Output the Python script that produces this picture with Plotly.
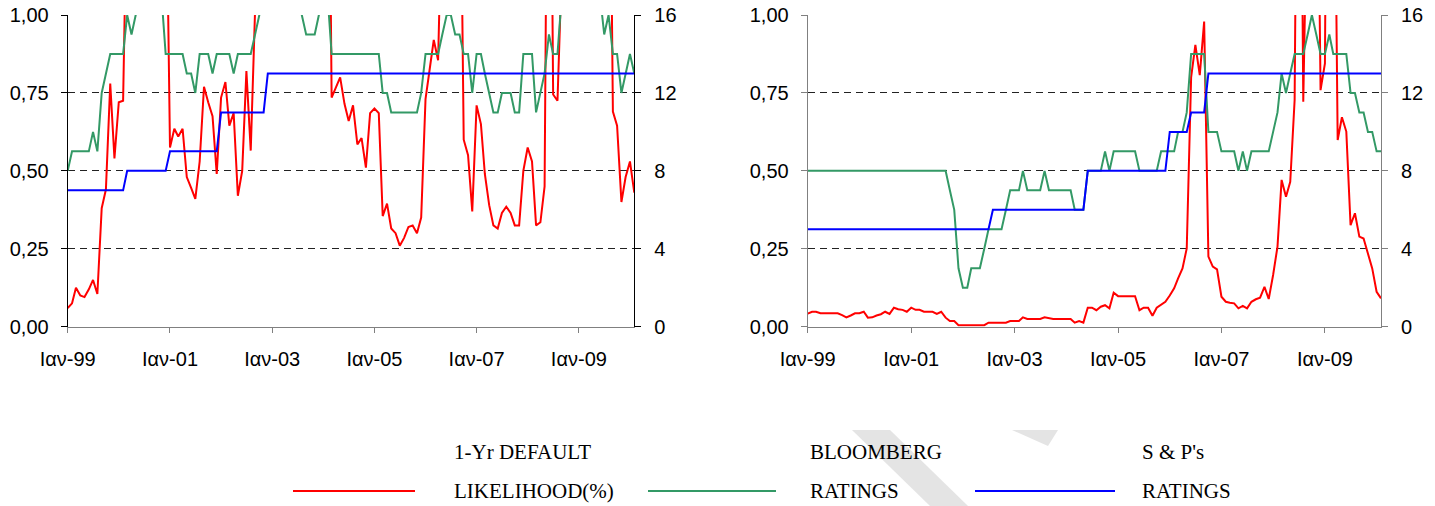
import pandas as pd
import plotly.graph_objects as go

# Monthly observations, January 1999 to February 2010
months = pd.date_range("1999-01-01", "2010-02-01", freq="MS")

tick_dates = ["1999-01-01", "2001-01-01", "2003-01-01", "2005-01-01", "2007-01-01", "2009-01-01"]
tick_labels = ["Ιαν-99", "Ιαν-01", "Ιαν-03", "Ιαν-05", "Ιαν-07", "Ιαν-09"]

# ---- left panel ----
left_default = [
    0.06, 0.075, 0.125, 0.10, 0.095, 0.12, 0.15, 0.105, 0.38, 0.44,
    0.78, 0.54, 0.72, 0.725, 1.45, 1.60, 1.70, 1.80, 1.70, 1.60,
    1.75, 1.85, 1.80, 1.60, 0.575, 0.635, 0.61, 0.635, 0.48, 0.445,
    0.41, 0.53, 0.77, 0.72, 0.675, 0.49, 0.735, 0.785, 0.645, 0.685,
    0.42, 0.50, 0.82, 0.565, 1.60, 1.80, 1.90, 2.00, 1.90, 1.80,
    1.70, 1.80, 1.90, 2.00, 1.90, 1.80, 1.70, 1.80, 1.90, 2.00,
    2.10, 2.20, 0.735, 0.77, 0.80, 0.715, 0.66, 0.71, 0.585, 0.605,
    0.51, 0.685, 0.70, 0.685, 0.355, 0.395, 0.315, 0.30, 0.26, 0.285,
    0.32, 0.325, 0.30, 0.35, 0.73, 0.83, 0.92, 0.855, 1.80, 2.00,
    1.90, 1.80, 1.80, 0.60, 0.55, 0.37, 0.71, 0.65, 0.49, 0.39,
    0.325, 0.315, 0.365, 0.385, 0.365, 0.325, 0.325, 0.50, 0.575, 0.53,
    0.325, 0.335, 0.45, 2.40, 0.745, 0.725, 1.80, 1.90, 2.00, 1.90,
    1.80, 1.90, 2.00, 1.90, 1.80, 1.90, 2.00, 2.10, 0.69, 0.645,
    0.40, 0.48, 0.53, 0.43,
]
left_bloomberg = [
    8, 9, 9, 9, 9, 9, 10, 9, 12, 13,
    14, 14, 14, 14, 16, 15, 16, 17, 17, 17,
    17, 17, 17, 14, 14, 14, 14, 14, 13, 13,
    12, 14, 14, 14, 13, 14, 14, 14, 14, 13,
    14, 14, 14, 14, 15, 16, 17, 17, 17, 17,
    17, 17, 17, 17, 17, 16, 15, 15, 15, 16,
    17, 17, 14, 14, 14, 14, 14, 14, 14, 14,
    14, 14, 14, 14, 12, 12, 11, 11, 11, 11,
    11, 11, 11, 12, 14, 14, 14, 14, 15, 16,
    16, 15, 15, 14, 14, 12, 14, 14, 13, 12,
    11, 11, 12, 12, 12, 11, 11, 14, 14, 14,
    11, 12, 13, 15, 14, 14, 17, 17, 17, 17,
    17, 17, 17, 17, 17, 17, 15, 16, 14, 14,
    12, 13, 14, 13,
]
left_sp = [
    7, 7, 7, 7, 7, 7, 7, 7, 7, 7,
    7, 7, 7, 7, 8, 8, 8, 8, 8, 8,
    8, 8, 8, 8, 9, 9, 9, 9, 9, 9,
    9, 9, 9, 9, 9, 9, 11, 11, 11, 11,
    11, 11, 11, 11, 11, 11, 11, 13, 13, 13,
    13, 13, 13, 13, 13, 13, 13, 13, 13, 13,
    13, 13, 13, 13, 13, 13, 13, 13, 13, 13,
    13, 13, 13, 13, 13, 13, 13, 13, 13, 13,
    13, 13, 13, 13, 13, 13, 13, 13, 13, 13,
    13, 13, 13, 13, 13, 13, 13, 13, 13, 13,
    13, 13, 13, 13, 13, 13, 13, 13, 13, 13,
    13, 13, 13, 13, 13, 13, 13, 13, 13, 13,
    13, 13, 13, 13, 13, 13, 13, 13, 13, 13,
    13, 13, 13, 13,
]

# ---- right panel ----
right_default = [
    0.042, 0.048, 0.048, 0.043, 0.043, 0.043, 0.043, 0.043, 0.037, 0.030,
    0.036, 0.043, 0.043, 0.048, 0.029, 0.030, 0.036, 0.040, 0.048, 0.041,
    0.061, 0.056, 0.054, 0.048, 0.061, 0.054, 0.054, 0.048, 0.048, 0.048,
    0.041, 0.048, 0.029, 0.018, 0.018, 0.005, 0.005, 0.005, 0.005, 0.005,
    0.005, 0.005, 0.013, 0.013, 0.013, 0.013, 0.013, 0.018, 0.018, 0.018,
    0.030, 0.025, 0.025, 0.025, 0.025, 0.030, 0.027, 0.025, 0.025, 0.025,
    0.025, 0.025, 0.013, 0.018, 0.013, 0.061, 0.061, 0.053, 0.064, 0.069,
    0.059, 0.109, 0.098, 0.098, 0.098, 0.098, 0.098, 0.053, 0.061, 0.061,
    0.035, 0.061, 0.070, 0.080, 0.100, 0.123, 0.155, 0.187, 0.251, 0.800,
    0.904, 0.807, 0.979, 0.225, 0.193, 0.184, 0.096, 0.080, 0.077, 0.075,
    0.059, 0.067, 0.059, 0.080, 0.088, 0.093, 0.128, 0.089, 0.166, 0.257,
    0.471, 0.417, 0.465, 0.727, 2.500, 0.722, 1.500, 1.600, 2.000, 0.759,
    0.845, 3.000, 2.000, 0.599, 0.672, 0.626, 0.326, 0.364, 0.289, 0.283,
    0.235, 0.187, 0.112, 0.091,
]
right_bloomberg = [
    8, 8, 8, 8, 8, 8, 8, 8, 8, 8,
    8, 8, 8, 8, 8, 8, 8, 8, 8, 8,
    8, 8, 8, 8, 8, 8, 8, 8, 8, 8,
    8, 8, 8, 7, 6, 3, 2, 2, 3, 3,
    3, 4, 5, 5, 5, 5, 6, 7, 7, 7,
    8, 7, 7, 7, 7, 8, 7, 7, 7, 7,
    7, 7, 6, 6, 6, 8, 8, 8, 8, 9,
    8, 9, 9, 9, 9, 9, 9, 8, 8, 8,
    8, 8, 9, 9, 9, 9, 10, 10, 11, 14,
    14, 14, 14, 10, 10, 10, 9, 9, 9, 9,
    8, 9, 8, 9, 9, 9, 9, 9, 10, 11,
    13, 12, 13, 14, 14, 14, 15, 16, 15, 14,
    14, 15, 14, 14, 14, 14, 12, 12, 11, 11,
    10, 10, 9, 9,
]
right_sp = [
    5, 5, 5, 5, 5, 5, 5, 5, 5, 5,
    5, 5, 5, 5, 5, 5, 5, 5, 5, 5,
    5, 5, 5, 5, 5, 5, 5, 5, 5, 5,
    5, 5, 5, 5, 5, 5, 5, 5, 5, 5,
    5, 5, 5, 6, 6, 6, 6, 6, 6, 6,
    6, 6, 6, 6, 6, 6, 6, 6, 6, 6,
    6, 6, 6, 6, 6, 8, 8, 8, 8, 8,
    8, 8, 8, 8, 8, 8, 8, 8, 8, 8,
    8, 8, 8, 8, 10, 10, 10, 10, 10, 11,
    11, 11, 11, 13, 13, 13, 13, 13, 13, 13,
    13, 13, 13, 13, 13, 13, 13, 13, 13, 13,
    13, 13, 13, 13, 13, 13, 13, 13, 13, 13,
    13, 13, 13, 13, 13, 13, 13, 13, 13, 13,
    13, 13, 13, 13,
]

RED, GREEN, BLUE = "#FF0000", "#339966", "#0000FF"
W, H = 1435, 506


def px_x(v):
    return v / W


def px_y(v):
    return 1 - v / H


tick_font = dict(family="Liberation Sans, Arial, sans-serif", size=20, color="black")

fig = go.Figure()
panels = [
    ("x", "y", "y2", left_default, left_bloomberg, left_sp),
    ("x2", "y3", "y4", right_default, right_bloomberg, right_sp),
]
for xa, ya_left, ya_right, pd_vals, bb_vals, sp_vals in panels:
    fig.add_trace(go.Scatter(x=months, y=pd_vals, xaxis=xa, yaxis=ya_left, mode="lines",
                             line=dict(color=RED, width=2), name="1-Yr DEFAULT LIKELIHOOD(%)",
                             showlegend=False))
    fig.add_trace(go.Scatter(x=months, y=bb_vals, xaxis=xa, yaxis=ya_right, mode="lines",
                             line=dict(color=GREEN, width=2), name="BLOOMBERG RATINGS",
                             showlegend=False))
    fig.add_trace(go.Scatter(x=months, y=sp_vals, xaxis=xa, yaxis=ya_right, mode="lines",
                             line=dict(color=BLUE, width=2), name="S & P's RATINGS",
                             showlegend=False))

y_dom = [px_y(326.7), px_y(15.0)]


def x_axis(domain, anchor, line_col):
    return dict(domain=domain, anchor=anchor, type="date",
                range=[months[0], months[-1]],
                tickmode="array", tickvals=tick_dates, ticktext=tick_labels,
                ticks="outside", ticklen=5, tickwidth=1, tickcolor=line_col,
                showline=True, linecolor=line_col, linewidth=1,
                showgrid=False, zeroline=False, automargin=False,
                tickfont=tick_font, ticklabelstandoff=9, fixedrange=True)


def pd_axis(anchor, line_col):
    return dict(domain=y_dom, anchor=anchor, range=[0, 1],
                tickmode="array", tickvals=[0, 0.25, 0.5, 0.75, 1.0], tickformat=".2f",
                ticks="outside", ticklen=6, tickwidth=1, tickcolor=line_col,
                showline=True, linecolor=line_col, linewidth=1,
                showgrid=True, gridcolor="#222222", gridwidth=1, griddash="7px,5px",
                zeroline=False, automargin=False, tickfont=tick_font,
                ticklabelstandoff=8, fixedrange=True)


def rating_axis(anchor, overlay, line_col):
    return dict(anchor=anchor, overlaying=overlay, side="right", range=[0, 16],
                tickmode="array", tickvals=[0, 4, 8, 12, 16],
                ticks="outside", ticklen=6, tickwidth=1, tickcolor=line_col,
                showline=True, linecolor=line_col, linewidth=1,
                showgrid=False, zeroline=False, automargin=False, tickfont=tick_font,
                ticklabelstandoff=9, fixedrange=True)


fig.update_layout(
    width=W, height=H,
    margin=dict(l=0, r=0, t=0, b=0),
    paper_bgcolor="white", plot_bgcolor="white",
    separators=",.",
    showlegend=False,
    font=dict(family="Liberation Sans, Arial, sans-serif", color="black"),
    xaxis=x_axis([px_x(67.7), px_x(634.3)], "y", "#808080"),
    yaxis=pd_axis("x", "#000000"),
    yaxis2=rating_axis("x", "y", "#000000"),
    xaxis2=x_axis([px_x(807.7), px_x(1381.0)], "y3", "#808080"),
    yaxis3=pd_axis("x2", "#808080"),
    yaxis4=rating_axis("x2", "y3", "#808080"),
)


def poly_path(points):
    return "M " + " L ".join(f"{px_x(px)},{px_y(py)}" for px, py in points) + " Z"


# Faint diagonal background strokes behind the caption area
for pts in [
    [(852, 430), (890, 430), (968, 506), (930, 506)],
    [(1012, 430), (1058, 430), (1048, 446)],
]:
    fig.add_shape(type="path", xref="paper", yref="paper", path=poly_path(pts),
                  fillcolor="#E4E4E4", line=dict(width=0), layer="below")

# Legend drawn below both panels: line sample plus two-line caption per series
legend_items = [
    (293, 415, 452, RED, "1-Yr DEFAULT", "LIKELIHOOD(%)"),
    (648, 776, 808, GREEN, "BLOOMBERG", "RATINGS"),
    (975, 1115, 1140, BLUE, "S & P's", "RATINGS"),
]
legend_font = dict(family="Liberation Serif, Times New Roman, serif", size=21, color="black")
for x0, x1, xt, col, line1, line2 in legend_items:
    fig.add_shape(type="line", xref="paper", yref="paper",
                  x0=px_x(x0), x1=px_x(x1), y0=px_y(491), y1=px_y(491),
                  line=dict(color=col, width=2))
    fig.add_annotation(xref="paper", yref="paper", x=px_x(xt), y=px_y(452),
                       text=line1, showarrow=False, xanchor="left", yanchor="middle",
                       font=legend_font)
    fig.add_annotation(xref="paper", yref="paper", x=px_x(xt), y=px_y(491),
                       text=line2, showarrow=False, xanchor="left", yanchor="middle",
                       font=legend_font)

fig.write_html("out.html", config={"displayModeBar": False})
